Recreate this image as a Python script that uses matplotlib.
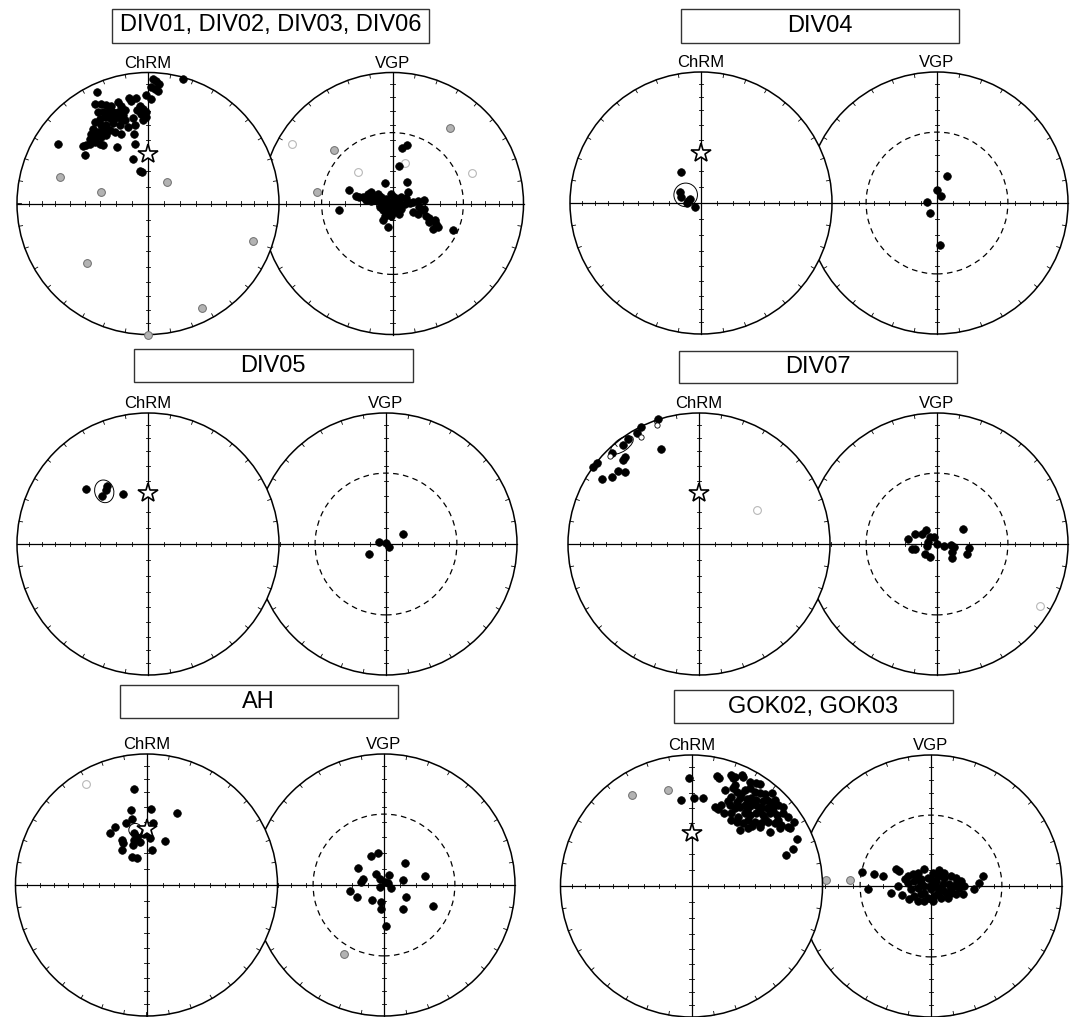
import numpy as np
import matplotlib
matplotlib.use("Agg")
import matplotlib.pyplot as plt
from matplotlib.patches import Circle, Ellipse, Rectangle

plt.rcParams['font.family'] = ['Liberation Sans', 'DejaVu Sans']

W, H = 1081, 1017
R = 131  # net radius, px

# ---------------- data: equal-area coords (x = east, y = north, unit radius)
div01_chrm_black = [
    (-0.407, 0.756), (-0.356, 0.756), (-0.318, 0.751), (-0.280, 0.746), (-0.229, 0.776), (-0.204, 0.746),
    (-0.178, 0.712), (-0.382, 0.700), (-0.344, 0.700), (-0.305, 0.700), (-0.267, 0.700), (-0.229, 0.700),
    (-0.191, 0.679), (-0.331, 0.662), (-0.293, 0.654), (-0.254, 0.649), (-0.216, 0.649), (-0.178, 0.636),
    (-0.153, 0.585), (-0.369, 0.644), (-0.407, 0.623), (-0.356, 0.598), (-0.318, 0.603), (-0.267, 0.611),
    (-0.216, 0.598), (-0.204, 0.534), (-0.420, 0.572), (-0.382, 0.547), (-0.344, 0.560), (-0.293, 0.560),
    (-0.254, 0.547), (-0.433, 0.534), (-0.394, 0.509), (-0.356, 0.509), (-0.318, 0.522), (-0.445, 0.491),
    (-0.407, 0.470), (-0.369, 0.458), (-0.344, 0.445), (-0.471, 0.445), (-0.445, 0.458), (-0.496, 0.437),
    (-0.237, 0.432), (-0.483, 0.369), (-0.687, 0.458), (-0.389, 0.852), (-0.145, 0.802), (-0.089, 0.809),
    (-0.127, 0.780), (-0.064, 0.746), (-0.038, 0.725), (-0.084, 0.712), (-0.051, 0.687), (-0.018, 0.700),
    (-0.013, 0.661), (-0.115, 0.649), (-0.038, 0.636), (-0.102, 0.598), (-0.107, 0.534), (-0.102, 0.458),
    (-0.115, 0.342), (-0.064, 0.246), (-0.043, 0.241), (0.038, 0.954), (0.064, 0.934), (0.084, 0.916),
    (0.025, 0.891), (0.051, 0.873), (0.076, 0.858), (-0.013, 0.826), (0.020, 0.801), (0.267, 0.947),
]
div01_chrm_grey = [(-0.671, 0.199), (-0.355, 0.091), (0.145, 0.161), (0.803, -0.288),
                   (-0.464, -0.453), (0.412, -0.801), (0.0, -1.0)]
div01_vgp_black = [
    (0.053, 0.285), (-0.061, 0.155), (0.112, 0.163), (-0.333, 0.104), (-0.412, -0.048), (0.070, 0.425),
    (0.114, 0.446), (-0.277, 0.061), (-0.252, 0.053), (-0.226, 0.048), (-0.188, 0.074), (-0.163, 0.087),
    (-0.150, 0.048), (-0.112, 0.074), (-0.087, 0.053), (-0.201, 0.028), (-0.163, 0.018), (-0.125, 0.023),
    (-0.087, 0.018), (-0.048, 0.036), (-0.010, 0.074), (0.015, 0.048), (0.041, 0.036), (0.066, 0.048),
    (0.117, 0.087), (0.104, 0.043), (-0.023, 0.010), (0.015, 0.003), (0.053, 0.010), (0.092, -0.003),
    (0.130, 0.003), (-0.061, -0.015), (-0.023, -0.028), (0.028, -0.028), (0.066, -0.041), (-0.099, -0.028),
    (-0.074, -0.053), (-0.036, -0.066), (0.015, -0.066), (0.053, -0.079), (-0.061, -0.092), (-0.010, -0.092),
    (-0.074, -0.125), (-0.036, -0.181), (0.155, 0.010), (0.193, 0.018), (0.244, 0.023), (0.206, -0.028),
    (0.244, -0.041), (0.155, -0.066), (0.193, -0.079), (0.232, -0.053), (0.257, -0.092), (0.282, -0.109),
    (0.321, -0.125), (0.282, -0.142), (0.333, -0.160), (0.308, -0.193), (0.346, -0.181), (0.461, -0.201),
]
div01_vgp_grey = [(-0.448, 0.407), (-0.578, 0.091), (0.440, 0.580)]
div01_vgp_open = [(-0.767, 0.453), (-0.262, 0.238), (0.096, 0.311), (0.609, 0.233)]

div04_chrm_black = [(-0.153, 0.237), (-0.160, 0.087), (-0.153, 0.043), (-0.097, 0.015),
                    (-0.084, 0.028), (-0.109, 0.003), (-0.043, -0.033)]
div04_vgp_black = [(0.073, 0.207), (0.0, 0.096), (0.031, 0.057), (-0.075, 0.008),
                   (-0.057, -0.078), (0.026, -0.321)]

div05_chrm_black = [(-0.477, 0.422), (-0.194, 0.381), (-0.316, 0.440), (-0.324, 0.409), (-0.352, 0.370)]
div05_vgp_black = [(0.132, 0.078), (-0.052, 0.018), (0.0, 0.008), (0.021, -0.021), (-0.127, -0.073)]

div07_chrm_black = [
    (-0.311, 0.951), (-0.446, 0.894), (-0.471, 0.850), (-0.539, 0.803), (-0.583, 0.756), (-0.290, 0.725),
    (-0.661, 0.694), (-0.562, 0.661), (-0.578, 0.642), (-0.782, 0.617), (-0.808, 0.591), (-0.622, 0.557),
    (-0.562, 0.552), (-0.666, 0.513), (-0.744, 0.497),
]
div07_chrm_small = [(-0.324, 0.912), (-0.443, 0.816), (-0.681, 0.674)]
div07_chrm_open = [(0.440, 0.259)]
div07_vgp_black = [
    (0.199, 0.114), (-0.220, 0.036), (-0.168, 0.078), (-0.117, 0.073), (-0.085, 0.104), (-0.057, 0.057),
    (-0.026, 0.052), (-0.065, 0.013), (-0.078, -0.013), (0.0, 0.0), (0.052, -0.013), (0.104, -0.005),
    (0.130, -0.026), (0.117, -0.060), (0.117, -0.109), (0.246, -0.031), (0.228, -0.078), (-0.194, -0.039),
    (-0.168, -0.039), (-0.091, -0.078), (-0.057, -0.098),
]
div07_vgp_open = [(0.785, -0.472)]

ah_chrm_black = [
    (-0.098, 0.736), (0.233, 0.549), (-0.117, 0.575), (0.031, 0.583), (-0.158, 0.477), (-0.111, 0.503),
    (0.049, 0.477), (-0.241, 0.440), (-0.275, 0.399), (-0.189, 0.347), (-0.176, 0.324), (-0.098, 0.394),
    (-0.073, 0.368), (-0.093, 0.342), (-0.104, 0.308), (-0.047, 0.329), (-0.021, 0.389), (0.023, 0.355),
    (0.142, 0.334), (-0.184, 0.264), (0.044, 0.264), (-0.111, 0.212), (-0.073, 0.205),
]
ah_chrm_open = [(-0.461, 0.769)]
ah_vgp_black = [
    (-0.101, 0.225), (-0.044, 0.244), (0.163, 0.168), (-0.199, 0.127), (0.311, 0.070), (-0.062, 0.083),
    (-0.161, 0.049), (-0.174, 0.023), (-0.031, 0.044), (0.039, 0.075), (0.008, 0.023), (0.034, 0.018),
    (-0.031, -0.013), (0.054, -0.021), (0.142, 0.039), (-0.259, -0.049), (-0.205, -0.091), (-0.091, -0.111),
    (-0.026, -0.130), (-0.026, -0.184), (0.171, -0.093), (0.145, -0.181), (0.376, -0.161), (0.013, -0.311),
]
ah_vgp_grey = [(-0.308, -0.526)]

gok_chrm_black = [
    (-0.021, 0.828), (-0.078, 0.658), (0.018, 0.671), (0.089, 0.671), (0.193, 0.843), (0.305, 0.849),
    (0.384, 0.849), (0.211, 0.822), (0.313, 0.822), (0.331, 0.835), (0.394, 0.835), (0.445, 0.796),
    (0.496, 0.784), (0.522, 0.779), (0.254, 0.733), (0.318, 0.746), (0.344, 0.720), (0.407, 0.733),
    (0.445, 0.746), (0.483, 0.720), (0.522, 0.707), (0.611, 0.707), (0.305, 0.677), (0.369, 0.672),
    (0.420, 0.664), (0.458, 0.672), (0.496, 0.656), (0.547, 0.651), (0.598, 0.638), (0.636, 0.656),
    (0.178, 0.606), (0.204, 0.585), (0.229, 0.618), (0.293, 0.618), (0.331, 0.593), (0.369, 0.606),
    (0.407, 0.618), (0.445, 0.611), (0.496, 0.618), (0.534, 0.606), (0.573, 0.593), (0.623, 0.606),
    (0.662, 0.618), (0.700, 0.606), (0.305, 0.555), (0.356, 0.529), (0.407, 0.555), (0.445, 0.542),
    (0.496, 0.555), (0.547, 0.542), (0.598, 0.555), (0.649, 0.542), (0.700, 0.555), (0.738, 0.529),
    (0.344, 0.491), (0.394, 0.478), (0.433, 0.504), (0.483, 0.491), (0.534, 0.478), (0.585, 0.491),
    (0.636, 0.478), (0.687, 0.466), (0.738, 0.453), (0.781, 0.491), (0.369, 0.427), (0.433, 0.440),
    (0.522, 0.453), (0.598, 0.415), (0.674, 0.440), (0.751, 0.440), (0.809, 0.356), (0.776, 0.280),
    (0.725, 0.237), (0.280, 0.650), (0.420, 0.580), (0.520, 0.580), (0.620, 0.570), (0.470, 0.640),
    (0.560, 0.700), (0.380, 0.700), (0.330, 0.770), (0.250, 0.560), (0.300, 0.500), (0.460, 0.460),
    (0.560, 0.510), (0.660, 0.500), (0.580, 0.660), (0.350, 0.640),
]
gok_chrm_grey = [(-0.452, 0.697), (-0.183, 0.736)]
gok_vgp_black = [
    (-0.529, 0.107), (-0.438, 0.089), (-0.369, 0.076), (-0.478, -0.020), (-0.305, -0.051), (-0.249, 0.0),
    (-0.267, 0.127), (-0.242, 0.115), (-0.224, -0.071), (-0.165, -0.102), (-0.178, 0.076), (-0.140, 0.089),
    (-0.102, 0.102), (-0.051, 0.127), (0.013, 0.102), (0.051, 0.076), (0.102, 0.064), (0.153, 0.076),
    (0.191, 0.064), (0.229, 0.038), (-0.178, 0.025), (-0.127, 0.038), (-0.076, 0.051), (-0.025, 0.064),
    (0.038, 0.038), (0.089, 0.013), (0.140, 0.013), (0.178, 0.0), (0.216, -0.013), (0.242, -0.064),
    (-0.153, -0.025), (-0.102, -0.013), (-0.051, 0.0), (0.0, -0.025), (0.051, -0.013), (0.102, -0.038),
    (0.153, -0.051), (0.191, -0.064), (-0.127, -0.076), (-0.076, -0.064), (-0.025, -0.089), (0.025, -0.076),
    (0.076, -0.089), (0.127, -0.089), (-0.102, -0.115), (-0.051, -0.115), (0.013, -0.115), (0.331, -0.025),
    (0.369, 0.025), (0.394, 0.076), (-0.200, 0.050), (0.000, 0.050), (0.100, 0.100), (0.200, 0.030),
    (-0.050, -0.050), (0.050, -0.050), (0.150, -0.020), (0.250, 0.000), (-0.100, 0.060), (0.060, 0.120),
    (-0.010, 0.000), (0.120, -0.060), (-0.080, 0.020), (0.030, 0.010),
]
gok_vgp_grey = [(-0.618, 0.046), (-0.803, 0.047)]

titles = ["DIV01, DIV02, DIV03, DIV06", "DIV04", "DIV05", "DIV07", "AH", "GOK02, GOK03"]
stars = [(0.0, 0.381), (0.0, 0.378), (0.0, 0.389), (0.0, 0.389), (0.0, 0.425), (0.0, 0.405)]
# mean-direction confidence ellipses: (x, y, width, height, angle)
a95 = [None, (-0.117, 0.062, 0.18, 0.18, 0), (-0.334, 0.402, 0.145, 0.175, 15),
       (-0.588, 0.756, 0.20, 0.095, 35), (-0.085, 0.42, 0.10, 0.10, 0), None]

chrm_sets = [
    dict(black=div01_chrm_black, grey=div01_chrm_grey),
    dict(black=div04_chrm_black),
    dict(black=div05_chrm_black),
    dict(black=div07_chrm_black, small=div07_chrm_small, open=div07_chrm_open),
    dict(black=ah_chrm_black, open=ah_chrm_open),
    dict(black=gok_chrm_black, grey=gok_chrm_grey),
]
vgp_sets = [
    dict(black=div01_vgp_black, grey=div01_vgp_grey, open=div01_vgp_open),
    dict(black=div04_vgp_black),
    dict(black=div05_vgp_black),
    dict(black=div07_vgp_black, open=div07_vgp_open),
    dict(black=ah_vgp_black, grey=ah_vgp_grey),
    dict(black=gok_vgp_black, grey=gok_vgp_grey),
]

# ---------------- layout in pixels: net centres and title boxes (x0, y0, x1, y1)
chrm_pos = [(148, 203.5), (701, 203), (148, 544), (699, 544), (146.5, 885), (691.5, 886)]
vgp_pos = [(392.5, 203.5), (937, 203), (386, 544), (937, 544), (384, 885), (931, 886)]
boxes = [(112, 8.5, 429, 42.5), (681, 9.5, 959, 42.5), (133.5, 349, 412.5, 382),
         (679, 351, 957, 383), (119.5, 685, 398, 718), (673.5, 690, 952.5, 723)]

styles = {
    'black': dict(ms=5.5, mfc='k', mec='k', mew=0.5, zorder=4),
    'grey': dict(ms=5.6, mfc='#b3b3b3', mec='#6e6e6e', mew=0.7, zorder=3),
    'open': dict(ms=5.6, mfc='white', mec='#b8b8b8', mew=0.8, zorder=3),
    'small': dict(ms=3.8, mfc='white', mec='k', mew=0.6, zorder=5),
}

fig = plt.figure(figsize=(W / 100, H / 100), dpi=100)


def net_axes(cx, cy):
    pad = 1.1
    ax = fig.add_axes([(cx - pad * R) / W, 1 - (cy + pad * R) / H, 2 * pad * R / W, 2 * pad * R / H])
    ax.set_xlim(-pad, pad)
    ax.set_ylim(-pad, pad)
    ax.axis('off')
    return ax


def draw_net(ax, dashed=False):
    ax.add_patch(Circle((0, 0), 1, fc='white', ec='k', lw=1.1, zorder=1))
    ax.plot([-1, 1], [0, 0], color='k', lw=0.9, zorder=2)
    ax.plot([0, 0], [-1, 1], color='k', lw=0.9, zorder=2)
    for a in np.radians(np.arange(0, 360, 10)):
        ax.plot([np.cos(a), 0.972 * np.cos(a)], [np.sin(a), 0.972 * np.sin(a)], color='k', lw=0.6, zorder=2)
    tick_r = np.sqrt(2) * np.sin(np.radians(90 - np.arange(10, 90, 10)) / 2)
    t = 0.018
    for r in tick_r:
        for s in (1, -1):
            ax.plot([s * r, s * r], [-t, t], color='k', lw=0.6, zorder=2)
            ax.plot([-t, t], [s * r, s * r], color='k', lw=0.6, zorder=2)
    if dashed:
        rc = np.sqrt(2) * np.sin(np.radians(45) / 2)
        ax.add_patch(Circle((0, 0), rc, fc='none', ec='k', lw=0.9, ls=(0, (4.5, 3.5)), zorder=2))


def draw_points(ax, sets):
    for kind, pts in sets.items():
        x = [p[0] for p in pts]
        y = [p[1] for p in pts]
        ax.plot(x, y, 'o', ls='none', clip_on=False, **styles[kind])


for i in range(6):
    # VGP net first, ChRM net on top of it
    vx, vy = vgp_pos[i]
    axv = net_axes(vx, vy)
    draw_net(axv, dashed=True)
    draw_points(axv, vgp_sets[i])

    cx, cy = chrm_pos[i]
    axc = net_axes(cx, cy)
    draw_net(axc)
    draw_points(axc, chrm_sets[i])
    if a95[i] is not None:
        ex, ey, ew, eh, ea = a95[i]
        axc.add_patch(Ellipse((ex, ey), ew, eh, angle=ea, fc='none', ec='k', lw=0.7, zorder=5))
    axc.plot(*stars[i], marker='*', ms=15, mfc='white', mec='k', mew=1.2, zorder=6)

    fig.text(cx / W, 1 - (cy - R - 5) / H, "ChRM", ha='center', va='baseline', fontsize=12)
    fig.text(vx / W, 1 - (vy - R - 5) / H, "VGP", ha='center', va='baseline', fontsize=12)

    x0, y0, x1, y1 = boxes[i]
    fig.add_artist(Rectangle((x0 / W, 1 - y1 / H), (x1 - x0) / W, (y1 - y0) / H,
                             transform=fig.transFigure, fc='white', ec='#333333', lw=1.0))
    fig.text((x0 + x1) / 2 / W, 1 - (y0 + y1) / 2 / H, titles[i], ha='center', va='center', fontsize=17)

fig.savefig("out.png", dpi=100)
